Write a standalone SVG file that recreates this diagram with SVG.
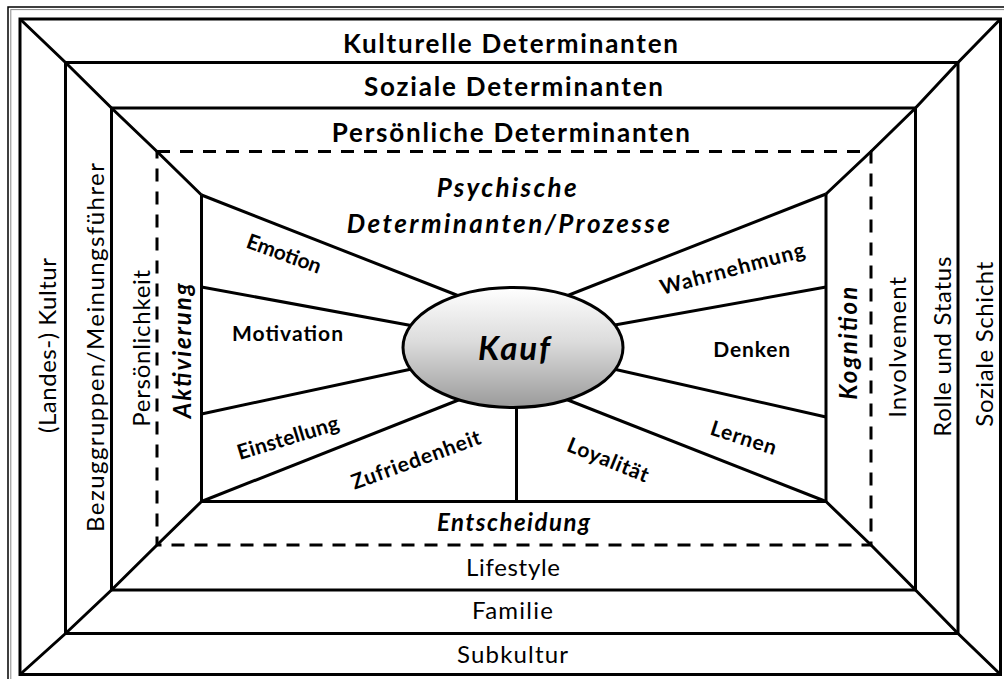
<svg xmlns="http://www.w3.org/2000/svg" width="1004" height="679" viewBox="0 0 1004 679">
  <defs>
    <linearGradient id="kaufFill" x1="0" y1="0" x2="0" y2="1">
      <stop offset="0" stop-color="#ffffff"/>
      <stop offset="0.45" stop-color="#dcdcdc"/>
      <stop offset="1" stop-color="#9a9a9a"/>
    </linearGradient>
    <style>
      .ln { fill: none; stroke: #000; stroke-width: 3; stroke-linejoin: miter; }
      .dash { fill: none; stroke: #000; stroke-width: 3; stroke-dasharray: 13 10; }
      .t { font-family: Lato, "Open Sans", "Liberation Sans", sans-serif; fill: #000; }
      .title { font-weight: 700; font-size: 26px; text-anchor: middle; }
      .lbl { font-weight: 700; font-size: 21px; text-anchor: middle; }
      .side { font-weight: 400; font-size: 24px; text-anchor: middle; }
      .bi { font-weight: 700; font-style: italic; text-anchor: middle; }
    </style>
  </defs>

  <rect width="1004" height="679" fill="#fff"/>

  <!-- outer double frame -->
  <g id="frame">
    <rect x="8" y="7" width="1010" height="690" fill="none" stroke="#000" stroke-width="1.5"/>
    <rect x="10.8" y="9.6" width="1010" height="690" fill="none" stroke="#888" stroke-width="1"/>
  </g>

  <!-- nested determinant layers -->
  <g id="kulturelle">
    <rect class="ln" x="20" y="19" width="980.5" height="655.5"/>
    <text class="t title" x="510.5" y="53" textLength="335">Kulturelle Determinanten</text>
    <text class="t side" transform="translate(56,345.5) rotate(-90)" textLength="175">(Landes-) Kultur</text>
    <text class="t side" transform="translate(992.5,344.2) rotate(-90)" textLength="165">Soziale Schicht</text>
    <text class="t side" x="512.5" y="663" textLength="111">Subkultur</text>
  </g>

  <g id="soziale">
    <rect class="ln" x="65.5" y="62.5" width="892.5" height="571"/>
    <text class="t title" x="513.5" y="96" textLength="299">Soziale Determinanten</text>
    <text class="t side" transform="translate(104,347.5) rotate(-90)" textLength="369">Bezuggruppen/Meinungsführer</text>
    <text class="t side" transform="translate(951,346.7) rotate(-90)" textLength="180">Rolle und Status</text>
    <text class="t side" x="512.5" y="619" textLength="81">Familie</text>
  </g>

  <g id="persoenliche">
    <rect class="ln" x="111.5" y="108" width="804" height="482"/>
    <text class="t title" x="510.8" y="141.5" textLength="358">Persönliche Determinanten</text>
    <text class="t side" transform="translate(150,348.3) rotate(-90)" textLength="157">Persönlichkeit</text>
    <text class="t side" transform="translate(906,347.3) rotate(-90)" textLength="141">Involvement</text>
    <text class="t side" x="513" y="576" textLength="94">Lifestyle</text>
  </g>

  <g id="psychische">
    <rect class="dash" x="157" y="151.5" width="714" height="393.5"/>
    <polyline class="ln" points="201.5,195 201.5,501.5 826,501.5 826,194"/>
    <text class="t title" font-style="italic" x="506.7" y="196.5" textLength="140">Psychische</text>
    <text class="t title" font-style="italic" x="508.3" y="233" textLength="323">Determinanten/Prozesse</text>
    <text class="t bi" font-size="24" transform="translate(191,350.8) rotate(-90)" textLength="135">Aktivierung</text>
    <text class="t bi" font-size="24" transform="translate(857,343.3) rotate(-90)" textLength="113">Kognition</text>
    <text class="t bi" font-size="24" x="513.5" y="531" textLength="153">Entscheidung</text>
  </g>

  <!-- corner diagonals and spokes toward the centre -->
  <g id="connectors">
    <polyline class="ln" points="20,19 65.5,62.5 111.5,108 157,151.5 201.5,195"/>
    <polyline class="ln" points="1000.5,19 958,62.5 915.5,108 871,151.5 826,194"/>
    <polyline class="ln" points="20,674.5 65.5,633.5 111.5,590 157,545 201.5,501.5"/>
    <polyline class="ln" points="1000.5,674.5 958,633.5 915.5,590 871,545 826,501.5"/>

    <line class="ln" x1="201.5" y1="195" x2="482" y2="305"/>
    <line class="ln" x1="201.5" y1="287" x2="430" y2="329"/>
    <line class="ln" x1="201.5" y1="414" x2="428" y2="365.5"/>
    <line class="ln" x1="201.5" y1="501.5" x2="480" y2="391.5"/>
    <line class="ln" x1="516.5" y1="501.5" x2="516.5" y2="390"/>
    <line class="ln" x1="826" y1="501.5" x2="545" y2="391"/>
    <line class="ln" x1="826" y1="417" x2="598" y2="365.5"/>
    <line class="ln" x1="826" y1="287" x2="598" y2="328"/>
    <line class="ln" x1="826" y1="194" x2="541" y2="306"/>
  </g>

  <!-- segment labels -->
  <g id="segments">
    <text class="t lbl" transform="translate(284,254) rotate(20)" y="7" textLength="78">Emotion</text>
    <text class="t lbl" x="287.5" y="341" textLength="111">Motivation</text>
    <text class="t lbl" transform="translate(288,438) rotate(-17)" y="7" textLength="105">Einstellung</text>
    <text class="t lbl" transform="translate(416,460) rotate(-20)" y="7" textLength="136">Zufriedenheit</text>
    <text class="t lbl" transform="translate(608,460) rotate(22)" y="7" textLength="86">Loyalität</text>
    <text class="t lbl" transform="translate(743.5,438) rotate(18)" y="7" textLength="68">Lernen</text>
    <text class="t lbl" x="751.7" y="356.5" textLength="77">Denken</text>
    <text class="t lbl" transform="translate(732.5,269) rotate(-15)" y="7" textLength="149">Wahrnehmung</text>
  </g>

  <!-- central purchase node -->
  <g id="kauf">
    <ellipse cx="513" cy="347.5" rx="110" ry="60" fill="url(#kaufFill)" stroke="#000" stroke-width="3"/>
    <text class="t bi" font-size="33" x="514" y="360" textLength="72">Kauf</text>
  </g>
</svg>
